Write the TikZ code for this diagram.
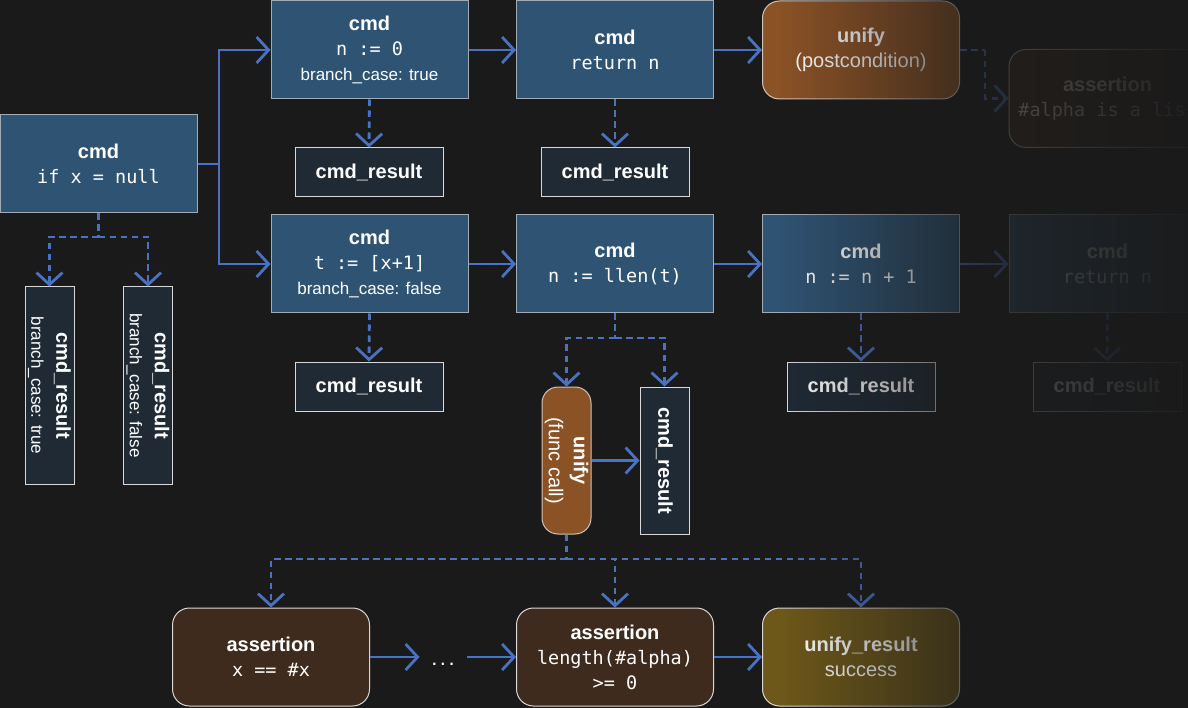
\documentclass[tikz,border=0pt]{standalone}
\usepackage{fontspec}
\setmainfont{Liberation Sans}
\setmonofont{DejaVu Sans Mono}
\usetikzlibrary{arrows.meta}
\definecolor{bgc}{HTML}{1A1A1A}
\definecolor{cmdf}{HTML}{2F5373}
\definecolor{cmdb}{HTML}{A2AAB3}
\definecolor{resf}{HTML}{1F2A35}
\definecolor{resb}{HTML}{D8D8D8}
\definecolor{unif}{HTML}{8B5226}
\definecolor{unib}{HTML}{D0C4B8}
\definecolor{assf}{HTML}{3F2B1D}
\definecolor{assb}{HTML}{D8D8D8}
\definecolor{uresf}{HTML}{6E5819}
\definecolor{acol}{HTML}{4A72C2}
\newcommand\txtm{\fontsize{18.5}{25}\selectfont\ttfamily}
\newcommand\txts{\fontsize{17}{25}\selectfont}
\begin{document}
\begin{tikzpicture}[x=1pt,y=-1pt,
  base/.style={align=center, text=white, font=\fontsize{20}{25}\selectfont, inner sep=0pt, line width=1pt},
  cmdbox/.style={base, rectangle, fill=cmdf, draw=cmdb, minimum width=197pt, minimum height=98pt},
  resbox/.style={base, rectangle, fill=resf, draw=resb, minimum width=148pt, minimum height=49pt},
  vresbox/.style={base, rectangle, fill=resf, draw=resb, minimum height=49pt, rotate=-90},
  unibox/.style={base, rectangle, rounded corners=17pt, fill=unif, draw=unib, minimum width=197pt, minimum height=98pt},
  assbox/.style={base, rectangle, rounded corners=17pt, fill=assf, draw=assb, minimum width=197pt, minimum height=98pt},
  uresbox/.style={base, rectangle, rounded corners=17pt, fill=uresf, draw=assb, minimum width=197pt, minimum height=98pt},
  conn/.style={draw=acol, line width=2.8pt},
  arr/.style={conn, -{Straight Barb[length=12pt,width=26pt,line width=2.8pt]}},
  dline/.style={conn, dash pattern=on 6.5pt off 4.5pt},
  darr/.style={arr, dash pattern=on 6.5pt off 4.5pt},
]
\fill[bgc] (0,0) rectangle (1188,708);
\useasboundingbox (0,0) rectangle (1188,708);

% nodes
\node[cmdbox] (cmd0) at (98.5,164) {{\bfseries cmd}\\{\txtm if x = null}};
\node[cmdbox] (n0) at (369.5,50) {{\bfseries cmd}\\{\txtm n := 0}\\{\txts branch\_case: true}};
\node[resbox] (r1) at (369,172.5) {\bfseries cmd\_result};
\node[cmdbox] (ret) at (615,50) {{\bfseries cmd}\\{\txtm return n}};
\node[resbox] (r2) at (615,172.5) {\bfseries cmd\_result};
\node[unibox] (up) at (861,50) {{\bfseries unify}\\(postcondition)};
\node[assbox] (asf) at (1107.5,98.5) {{\bfseries assertion}\\{\txtm \#alpha is a list}};
\node[cmdbox] (t0) at (369.5,264) {{\bfseries cmd}\\{\txtm t := [x+1]}\\{\txts branch\_case: false}};
\node[resbox] (r3) at (369,386.5) {\bfseries cmd\_result};
\node[cmdbox] (llen) at (615,264) {{\bfseries cmd}\\{\txtm n := llen(t)}};
\node[cmdbox] (np1) at (861,264) {{\bfseries cmd}\\{\txtm n := n + 1}};
\node[resbox] (r4) at (861,386.5) {\bfseries cmd\_result};
\node[cmdbox] (retf) at (1107.5,264) {{\bfseries cmd}\\{\txtm return n}};
\node[resbox] (r5) at (1107,386.5) {\bfseries cmd\_result};
\node[vresbox, minimum width=197pt] (vr1) at (49.5,385.5) {{\bfseries cmd\_result}\\{\txts branch\_case: true}};
\node[vresbox, minimum width=197pt] (vr2) at (148,385.5) {{\bfseries cmd\_result}\\{\txts branch\_case: false}};
\node[base, rectangle, rounded corners=16pt, fill=unif, draw=unib, minimum width=147pt, minimum height=49pt, rotate=-90] (ufc) at (566.5,460.5) {{\bfseries unify}\\(func call)};
\node[vresbox, minimum width=147pt] (vres) at (664.5,460.5) {\bfseries cmd\_result};
\node[assbox] (a1) at (271,657) {{\bfseries assertion}\\{\txtm x == \#x}};
\node[assbox] (a2) at (615,657) {{\bfseries assertion}\\{\txtm length(\#alpha)}\\{\txtm >= 0}};
\node[uresbox] (ures) at (861,657) {{\bfseries unify\_result}\\success};
\node[base, minimum width=46pt, minimum height=20pt] (dots) at (443,657) {\raisebox{-16pt}{\fontsize{22}{25}\selectfont .\kern2.5pt.\kern2.5pt.}};

% solid connectors
\coordinate (jA) at (219,164);
\draw[conn] (cmd0.east) -- (jA);
\draw[arr] (jA) |- (n0.west);
\draw[arr] (jA) |- (t0.west);
\draw[arr] (n0.east) -- (ret.west);
\draw[arr] (ret.east) -- (up.west);
\draw[arr] (t0.east) -- (llen.west);
\draw[arr] (llen.east) -- (np1.west);
\draw[arr] (np1.east) -- (retf.west);
\draw[arr] (ufc.north) -- (vres.south);
\draw[arr] (a1.east) -- (dots.west);
\draw[arr] (dots.east) -- (a2.west);
\draw[arr] (a2.east) -- (ures.west);

% dashed connectors
\coordinate (j0) at (98.5,237);
\draw[dline] (cmd0.south) -- (j0);
\draw[darr] (j0) -| (vr1.west);
\draw[darr] (j0) -| (vr2.west);
\draw[darr] (n0.south) -- (r1.north);
\draw[darr] (ret.south) -- (r2.north);
\draw[darr] (t0.south) -- (r3.north);
\draw[darr] (np1.south) -- (r4.north);
\draw[darr] (retf.south) -- (r5.north);
\coordinate (jp) at (985,50);
\draw[dline] (up.east) -- (jp);
\draw[darr] (jp) |- (asf.west);
\coordinate (j1) at (615,338);
\draw[dline] (llen.south) -- (j1);
\draw[darr] (j1) -| (ufc.west);
\draw[darr] (j1) -| (vres.west);
\coordinate (j2) at (566.5,559);
\draw[dline] (ufc.east) -- (j2);
\draw[darr] (j2) -| (a1.north);
\draw[darr] (j2) -| (a2.north);
\draw[darr] (j2) -| (ures.north);

% fade overlay on the right
\foreach \i in {0,...,111}{
  \pgfmathsetmacro\xa{740+4*\i}
  \pgfmathsetmacro\xc{\xa+2}
  \pgfmathsetmacro\op{\xc<780 ? 0 : (\xc<1010 ? 0.8*(\xc-780)/230 : min(0.97,0.8+0.17*(\xc-1010)/178))}
  \fill[bgc, fill opacity=\op] (\xa,0) rectangle (\xa+4,708);
}
\end{tikzpicture}
\end{document}
